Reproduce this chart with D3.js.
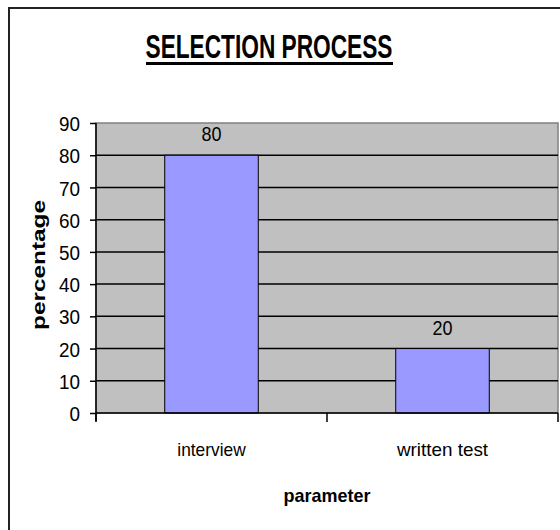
<!DOCTYPE html>
<html>
<head>
<meta charset="utf-8">
<script src="https://cdn.jsdelivr.net/npm/d3@7"></script>
<style>
  html, body { margin: 0; padding: 0; background: #fff; }
  svg { display: block; }
  text { font-family: "Liberation Sans", Arial, sans-serif; fill: #000; }
</style>
</head>
<body>
<svg id="chart" width="560" height="530"></svg>
<script>
const categories = ["interview", "written test"];
const values = [80, 20];
const yTicks = [0, 10, 20, 30, 40, 50, 60, 70, 80, 90];
const titleText = "SELECTION PROCESS";
const xTitle = "parameter";
const yTitle = "percentage";

const svg = d3.select("#chart");
const plot = { left: 96, right: 558, top: 123, bottom: 413 };

// outer frame (left and top edges visible; chart cropped right/bottom)
svg.append("path")
  .attr("d", "M9,531 L9,8 L562,8")
  .attr("fill", "none").attr("stroke", "#222").attr("stroke-width", 2);

const x = d3.scaleBand().domain(categories).range([plot.left, plot.right]).padding(0);
const y = d3.scaleLinear().domain([0, 90]).range([plot.bottom, plot.top]);

// plot area background
svg.append("rect")
  .attr("x", plot.left).attr("y", plot.top)
  .attr("width", plot.right - plot.left).attr("height", plot.bottom - plot.top)
  .attr("fill", "#c0c0c0").attr("stroke", "#808080").attr("stroke-width", 1.5);

// gridlines
svg.append("g").selectAll("line").data(yTicks.filter(d => d > 0 && d < 90)).join("line")
  .attr("x1", plot.left).attr("x2", plot.right)
  .attr("y1", d => y(d)).attr("y2", d => y(d))
  .attr("stroke", "#000").attr("stroke-width", 1.5);

// bars
const barFrac = 0.405;
svg.append("g").selectAll("rect").data(categories).join("rect")
  .attr("x", (d) => x(d) + x.bandwidth() * (1 - barFrac) / 2)
  .attr("width", x.bandwidth() * barFrac)
  .attr("y", (d, i) => y(values[i]))
  .attr("height", (d, i) => y(0) - y(values[i]))
  .attr("fill", "#9999ff").attr("stroke", "#000").attr("stroke-width", 1);

// data labels
svg.append("g").selectAll("text").data(categories).join("text")
  .attr("x", d => x(d) + x.bandwidth() / 2)
  .attr("y", (d, i) => y(values[i]) - 14)
  .attr("text-anchor", "middle")
  .attr("textLength", (d, i) => String(values[i]).length * 10)
  .attr("lengthAdjust", "spacingAndGlyphs")
  .style("font-size", "20px")
  .text((d, i) => values[i]);

// y axis
const yAxis = d3.axisLeft(y).tickValues(yTicks).tickSize(6).tickPadding(10).tickSizeOuter(0);
const gy = svg.append("g").attr("transform", `translate(${plot.left},0)`).call(yAxis);
gy.select(".domain").attr("stroke", "#000").attr("stroke-width", 1.5)
  .attr("d", `M0,${plot.top}V${plot.bottom + 8}`);
gy.selectAll(".tick line").attr("stroke", "#000").attr("stroke-width", 1.5);
gy.selectAll(".tick text").style("font-size", "20px")
  .attr("font-family", "Liberation Sans, Arial, sans-serif").attr("dy", "0.38em")
  .attr("textLength", d => String(d).length * 10.5).attr("lengthAdjust", "spacingAndGlyphs");

// x axis
const xAxis = d3.axisBottom(x).tickSize(0).tickPadding(30).tickSizeOuter(0);
const gx = svg.append("g").attr("transform", `translate(0,${plot.bottom})`).call(xAxis);
gx.select(".domain").attr("stroke", "#000").attr("stroke-width", 1.5)
  .attr("d", `M${plot.left},0H${plot.right}`);
gx.selectAll(".tick text").style("font-size", "19px")
  .attr("font-family", "Liberation Sans, Arial, sans-serif").attr("dy", "0.71em")
  .attr("textLength", d => d.length * 7.6).attr("lengthAdjust", "spacingAndGlyphs");
// category separator ticks
const sepPos = [plot.left, plot.left + x.step(), plot.right];
svg.append("g").selectAll("line").data(sepPos).join("line")
  .attr("x1", d => d).attr("x2", d => d)
  .attr("y1", plot.bottom).attr("y2", plot.bottom + 9)
  .attr("stroke", "#000").attr("stroke-width", 1.5);

// title
svg.append("text")
  .attr("x", 269).attr("y", 58)
  .attr("text-anchor", "middle")
  .attr("textLength", 247).attr("lengthAdjust", "spacingAndGlyphs")
  .style("font-size", "33px").style("font-weight", "bold")
  .text(titleText);
svg.append("line")
  .attr("x1", 146).attr("x2", 393).attr("y1", 63.5).attr("y2", 63.5)
  .attr("stroke", "#000").attr("stroke-width", 3);

// x title
svg.append("text")
  .attr("x", (plot.left + plot.right) / 2).attr("y", 502)
  .attr("text-anchor", "middle")
  .attr("textLength", 87).attr("lengthAdjust", "spacingAndGlyphs")
  .style("font-size", "19px").style("font-weight", "bold")
  .text(xTitle);

// y title
svg.append("text")
  .attr("transform", "translate(45,265) rotate(-90)")
  .attr("text-anchor", "middle")
  .attr("textLength", 130).attr("lengthAdjust", "spacingAndGlyphs")
  .style("font-size", "18px").style("font-weight", "bold")
  .text(yTitle);
</script>
</body>
</html>
